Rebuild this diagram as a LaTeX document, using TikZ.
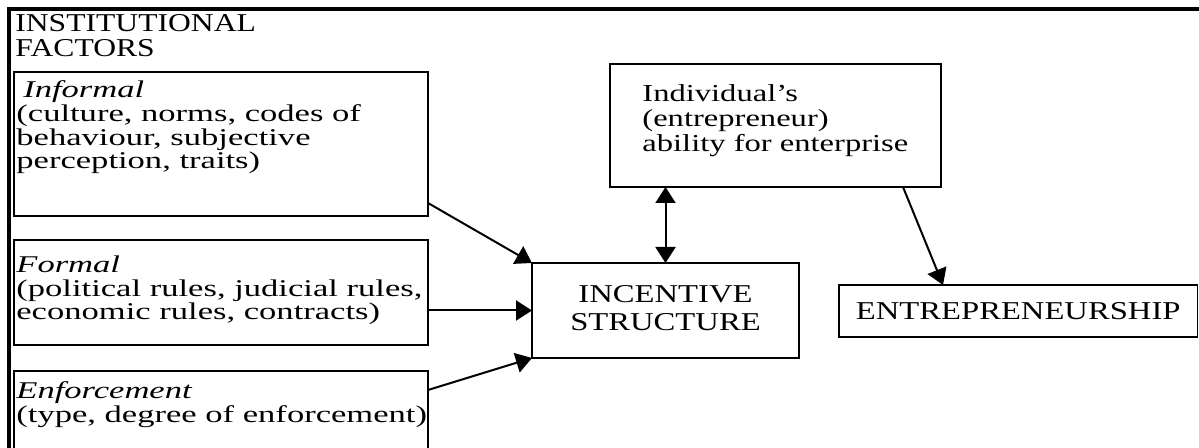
\documentclass[tikz,border=0pt]{standalone}
\usepackage{fontspec}
\setmainfont{Liberation Serif}
\usepackage{graphicx}
\usetikzlibrary{arrows.meta,calc}

% horizontally widened text block
\newcommand{\widen}[2]{\scalebox{#1}[1]{#2}}

\begin{document}
\begin{tikzpicture}[x=0.5pt,y=-0.5pt,
  >={Triangle[length=8pt,width=10pt]},
  box/.style={draw, line width=0.85pt, inner sep=0pt, outer sep=0pt},
  bodytext/.style={inner sep=0pt, anchor=base west, font=\fontsize{12}{11.25}\selectfont},
  indtext/.style={inner sep=0pt, anchor=base west, font=\fontsize{12.2}{12.5}\selectfont},
  capsfont/.style={font=\fontsize{12.85}{12.5}\selectfont},
  link/.style={line width=1pt, ->},
]
\useasboundingbox (0,0) rectangle (1199,448);
\clip (0,0) rectangle (1199,448);

% outer frame (top and left rules)
\draw[line width=1.8pt] (1199,9) -- (8.75,9) -- (8.75,460);

% heading of the left group
\node[capsfont, inner sep=0pt, anchor=base west] (heading) at (15,32)
  {\widen{1.23}{\begin{tabular}[t]{@{}l@{}}INSTITUTIONAL\\FACTORS\end{tabular}}};

% institutional factor boxes (width 414 units = 207pt)
\node[box, anchor=north west, minimum width=207pt, minimum height=72pt] (infbox) at (14,72) {};
\node[box, anchor=north west, minimum width=207pt, minimum height=52.5pt] (formbox) at (14,240) {};
\node[box, anchor=north west, minimum width=207pt, minimum height=50pt] (enfbox) at (14,371) {};

\node[bodytext] (inftext) at (16,98)
  {\widen{1.44}{\begin{tabular}[t]{@{}l@{}}\hspace*{2.4pt}\textit{Informal}\\(culture, norms, codes of\\behaviour, subjective\\perception, traits)\end{tabular}}};
\node[bodytext] (formtext) at (16,273)
  {\widen{1.44}{\begin{tabular}[t]{@{}l@{}}\textit{Formal}\\(political rules, judicial rules,\\economic rules, contracts)\end{tabular}}};
\node[bodytext] (enftext) at (16,399)
  {\widen{1.44}{\begin{tabular}[t]{@{}l@{}}\textit{Enforcement}\\(type, degree of enforcement)\end{tabular}}};

% incentive structure
\node[box, minimum width=133.5pt, minimum height=47.5pt,
      font=\fontsize{12.85}{14}\selectfont] (incbox) at (665.5,310.5)
  {\widen{1.27}{\begin{tabular}{@{}c@{}}INCENTIVE\\STRUCTURE\end{tabular}}};

% individual ability
\node[box, anchor=north west, minimum width=165.5pt, minimum height=61.5pt] (indbox) at (610,64) {};
\node[indtext] (indtxt) at (642,102)
  {\widen{1.335}{\begin{tabular}[t]{@{}l@{}}Individual's\\(entrepreneur)\\ability for enterprise\end{tabular}}};

% outcome
\node[box, minimum width=179.25pt, minimum height=26pt, capsfont] (entbox) at (1018.25,311)
  {\widen{1.27}{ENTREPRENEURSHIP}};

% connectors
\draw[link] ($(infbox.south east)+(0,-13)$) -- (incbox.north west);
\draw[link] (formbox.east |- incbox.west) -- (incbox.west);
\draw[link] ($(enfbox.north east)+(0,19)$) -- (incbox.south west);
\draw[link, <->] (incbox.north) -- (incbox.north |- indbox.south);
\draw[link] ($(indbox.south west)+(293,0)$) -- ($(entbox.north west)+(104,0)$);
\end{tikzpicture}
\end{document}
